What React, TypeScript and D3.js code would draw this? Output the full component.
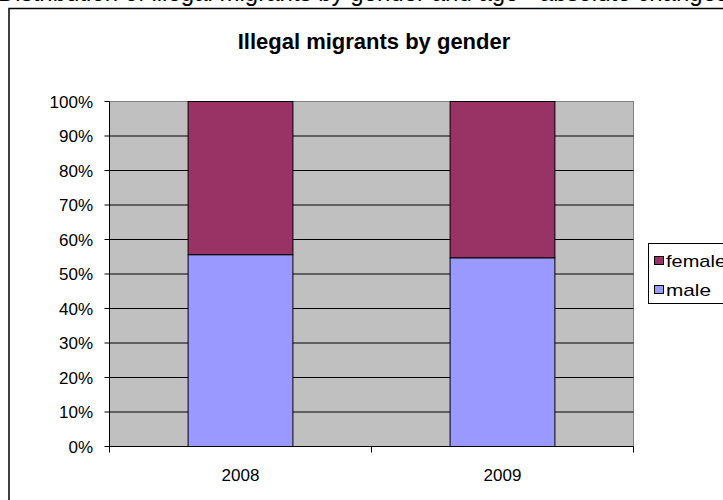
import React from "react";
import * as d3 from "d3";

// Chart data
const years = ["2008", "2009"];
const maleShare = [55.6, 54.7];
const femaleShare = [44.4, 45.3];
const seriesNames = ["female", "male"];
const seriesColors = ["#993366", "#9999FF"];
const legendWidths = [60, 45];
const yTicks = [0, 10, 20, 30, 40, 50, 60, 70, 80, 90, 100];

const W = 723;
const H = 500;
const FONT = "'Liberation Sans', Arial, sans-serif";

export default function App() {
  const plot = { left: 109.5, right: 633.5, top: 101.5, bottom: 446.5 };

  const x = d3
    .scaleBand<string>()
    .domain(years)
    .range([plot.left, plot.right])
    .paddingInner(0.6)
    .paddingOuter(0.3);
  const xOuter = d3.scaleBand<string>().domain(years).range([plot.left, plot.right]);
  const y = d3.scaleLinear().domain([0, 100]).range([plot.bottom, plot.top]);

  const stacked = years.map((yr, i) => ({
    year: yr,
    male: maleShare[i],
    female: femaleShare[i],
  }));
  const stack = d3.stack<any>().keys(["male", "female"])(stacked);
  const colorOf: Record<string, string> = { male: seriesColors[1], female: seriesColors[0] };

  const catEdges = [plot.left, ...years.map((yr) => (xOuter(yr) as number) + xOuter.bandwidth())];

  return (
    <svg
      width={W}
      height={H}
      style={{ position: "absolute", left: 0, top: 0, background: "#fff" }}
      fontFamily={FONT}
    >
      {/* page text running above the chart, mostly scrolled out of view */}
      <text x={-2} y={1} fontSize={26} fill="#000" textLength={730} lengthAdjust="spacingAndGlyphs">
        Distribution of illegal migrants by gender and age - absolute changes
      </text>

      {/* chart frame */}
      <rect x={9} y={8.5} width={W} height={H} fill="#fff" stroke="#000" strokeWidth={1.5} />

      <text
        x={374}
        y={49}
        textAnchor="middle"
        fontSize={22}
        fontWeight="bold"
        fill="#000"
      >
        Illegal migrants by gender
      </text>

      {/* plot area */}
      <rect
        x={plot.left}
        y={plot.top}
        width={plot.right - plot.left}
        height={plot.bottom - plot.top}
        fill="#C0C0C0"
        stroke="#808080"
        strokeWidth={1}
      />
      {yTicks
        .filter((t) => t > 0 && t < 100)
        .map((t) => (
          <line
            key={t}
            x1={plot.left}
            x2={plot.right}
            y1={y(t)}
            y2={y(t)}
            stroke="#000"
            strokeWidth={1}
          />
        ))}

      {/* stacked bars */}
      {stack.map((layer) =>
        layer.map((d, i) => (
          <rect
            key={layer.key + i}
            x={x(years[i])}
            y={y(d[1])}
            width={x.bandwidth()}
            height={y(d[0]) - y(d[1])}
            fill={colorOf[layer.key as string]}
            stroke="#000"
            strokeWidth={1}
          />
        ))
      )}

      {/* y axis */}
      <line x1={plot.left} x2={plot.left} y1={plot.top} y2={plot.bottom} stroke="#000" strokeWidth={1} />
      {yTicks.map((t) => (
        <g key={t}>
          <line x1={plot.left - 5} x2={plot.left} y1={y(t)} y2={y(t)} stroke="#000" strokeWidth={1} />
          <text x={93} y={y(t) + 6} textAnchor="end" fontSize={17} fill="#000">
            {t}%
          </text>
        </g>
      ))}

      {/* x axis */}
      <line x1={plot.left} x2={plot.right} y1={plot.bottom} y2={plot.bottom} stroke="#000" strokeWidth={1} />
      {catEdges.map((e, i) => (
        <line key={i} x1={e} x2={e} y1={plot.bottom} y2={plot.bottom + 6} stroke="#000" strokeWidth={1} />
      ))}
      {years.map((yr) => (
        <text
          key={yr}
          x={(xOuter(yr) as number) + xOuter.bandwidth() / 2}
          y={481}
          textAnchor="middle"
          fontSize={17}
          fill="#000"
        >
          {yr}
        </text>
      ))}

      {/* legend */}
      <rect x={648.5} y={243.5} width={100} height={60} fill="#fff" stroke="#000" strokeWidth={1} />
      {seriesNames.map((name, i) => (
        <g key={name}>
          <rect
            x={654.5}
            y={256.5 + i * 29}
            width={9}
            height={8}
            fill={seriesColors[i]}
            stroke="#000"
            strokeWidth={1}
          />
          <text
            x={666}
            y={267 + i * 29}
            fontSize={17}
            fill="#000"
            textLength={legendWidths[i]}
            lengthAdjust="spacingAndGlyphs"
          >
            {name}
          </text>
        </g>
      ))}
    </svg>
  );
}
